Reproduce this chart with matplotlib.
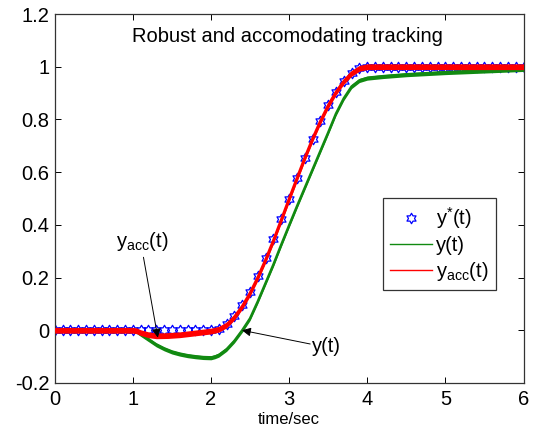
import numpy as np
import matplotlib
matplotlib.use("Agg")
import matplotlib.pyplot as plt
from matplotlib.path import Path
from matplotlib.lines import Line2D

plt.rcParams['font.family'] = ['Liberation Sans', 'DejaVu Sans']
plt.rcParams['mathtext.fontset'] = 'custom'
plt.rcParams['mathtext.rm'] = 'Liberation Sans'
plt.rcParams['mathtext.it'] = 'Liberation Sans'
plt.rcParams['mathtext.bf'] = 'Liberation Sans:bold'

# ---------------- data ----------------
t_ref = np.round(np.arange(0, 6.0001, 0.1), 1)
y_ref = [0.0] * 21 + [0.006, 0.025, 0.055, 0.095, 0.146, 0.206, 0.273, 0.345,
                      0.422, 0.500, 0.578, 0.655, 0.727, 0.794, 0.854, 0.905,
                      0.945, 0.975, 0.994, 1.0] + [1.0] * 20

t_acc = [0.0, 1.0, 1.05, 1.1, 1.2, 1.3, 1.45, 1.6, 1.8, 2.0, 2.1, 2.2, 2.3,
         2.4, 2.5, 2.6, 2.7, 2.8, 2.9, 3.0, 3.1, 3.2, 3.3, 3.4, 3.5, 3.6,
         3.7, 3.8, 3.9, 4.0, 6.0]
y_acc = [0.0, 0.0, -0.002, -0.009, -0.017, -0.021, -0.020, -0.017, -0.010,
         -0.003, 0.004, 0.020, 0.050, 0.090, 0.140, 0.200, 0.267, 0.340,
         0.418, 0.497, 0.575, 0.652, 0.725, 0.792, 0.852, 0.903, 0.944,
         0.975, 0.994, 1.0, 1.0]

t_y = [0.0, 1.0, 1.05, 1.1, 1.2, 1.3, 1.4, 1.5, 1.6, 1.7, 1.8, 1.9, 2.0,
       2.05, 2.1, 2.2, 2.3, 2.4, 2.5, 2.6, 2.7, 2.8, 2.9, 3.0, 3.1, 3.2,
       3.3, 3.4, 3.5, 3.6, 3.7, 3.8, 3.9, 4.0, 4.2, 4.5, 5.0, 5.5, 6.0]
y_y = [0.0, 0.0, -0.005, -0.015, -0.035, -0.055, -0.070, -0.082, -0.090,
       -0.096, -0.100, -0.103, -0.104, -0.100, -0.094, -0.072, -0.040,
       0.0, 0.045, 0.110, 0.180, 0.250, 0.325, 0.398, 0.470, 0.540, 0.610,
       0.680, 0.750, 0.822, 0.880, 0.925, 0.948, 0.957, 0.963, 0.970,
       0.978, 0.984, 0.990]

# half-width of the chattering band seen around each simulated curve
acc_jitter = 0.011
y_jitter = 0.008

x_ticks = [0, 1, 2, 3, 4, 5, 6]
y_ticks = [-0.2, 0, 0.2, 0.4, 0.6, 0.8, 1.0, 1.2]
y_tick_labels = ['-0.2', '0', '0.2', '0.4', '0.6', '0.8', '1', '1.2']
legend_labels = [r'$\mathregular{y^{*}(t)}$', 'y(t)', r'$\mathregular{y_{acc}(t)}$']
title = 'Robust and accomodating tracking'
xlabel = 'time/sec'

# ---------------- style ----------------
W, H = 538, 432
FS = 14.5
fig = plt.figure(figsize=(W / 100, H / 100), dpi=100)
ax = fig.add_axes([54.7 / W, 1 - 383 / H, (523.5 - 54.7) / W, (383 - 14) / H])

# hexagram marker (outline of a six-pointed star)
ang = np.deg2rad(90 + 30 * np.arange(12))
rad = np.where(np.arange(12) % 2 == 0, 1.0, 1 / np.sqrt(3))
verts = np.column_stack([rad * np.cos(ang), rad * np.sin(ang)])
verts = np.vstack([verts, verts[:1]])
hexagram = Path(verts, [Path.MOVETO] + [Path.LINETO] * 11 + [Path.CLOSEPOLY])

blue = '#0000ff'
green = '#118a11'
red = '#ff0000'

ax.plot(t_ref, y_ref, ls='none', marker=hexagram, ms=7.5, mec=blue,
        mfc='none', mew=0.9, zorder=2)

ty = np.array(t_y); yy = np.array(y_y)
ax.fill_between(ty, yy - y_jitter, yy + y_jitter, color=green, lw=0, zorder=3)
ax.plot(ty, yy, color=green, lw=1.8, zorder=3)

ta = np.array(t_acc); ya = np.array(y_acc)
ax.fill_between(ta, ya - acc_jitter, ya + acc_jitter, color=red, lw=0, zorder=4)
ax.plot(ta, ya, color=red, lw=2.2, zorder=4)

ax.set_xlim(0, 6)
ax.set_ylim(-0.2, 1.2)
ax.set_xticks(x_ticks)
ax.set_xticklabels([str(v) for v in x_ticks])
ax.set_yticks(y_ticks)
ax.set_yticklabels(y_tick_labels)
ax.tick_params(direction='in', length=4, width=0.7, top=True, right=True,
               labelsize=FS, colors='k')
ax.tick_params(axis='x', pad=5)
ax.tick_params(axis='y', pad=4)
for s in ax.spines.values():
    s.set_linewidth(0.9)
    s.set_color('#333333')

ax.set_xlabel(xlabel, fontsize=12, labelpad=2)
ax.text(2.98, 1.092, title, ha='center', va='baseline', fontsize=FS)

# annotations
arrow = dict(arrowstyle='-|>', color='k', lw=0.7, mutation_scale=13,
             shrinkA=0, shrinkB=0)
ax.annotate('', xy=(1.32, -0.028), xytext=(1.136, 0.277), arrowprops=arrow,
            zorder=6)
ax.text(1.125, 0.317, r'$\mathregular{y_{acc}(t)}$', ha='center',
        va='baseline', fontsize=FS)
ax.annotate('', xy=(2.397, 0.0), xytext=(3.27, -0.052), arrowprops=arrow,
            zorder=6)
ax.text(3.295, -0.084, 'y(t)', ha='left', va='baseline', fontsize=FS)

handles = [
    Line2D([], [], ls='none', marker=hexagram, ms=7.5, mec=blue, mfc='none', mew=0.9),
    Line2D([], [], color=green, lw=1.0),
    Line2D([], [], color=red, lw=1.0),
]
leg = ax.legend(handles, legend_labels, loc='upper left',
                bbox_to_anchor=(382.7 / W, 1 - 198.3 / H),
                bbox_transform=fig.transFigure, borderaxespad=0,
                fontsize=FS, handlelength=2.1, handletextpad=0.2,
                borderpad=0.35, labelspacing=0.25, fancybox=False,
                framealpha=1, edgecolor='#333333')
leg.get_frame().set_linewidth(0.9)

fig.savefig('out.png', dpi=100)
